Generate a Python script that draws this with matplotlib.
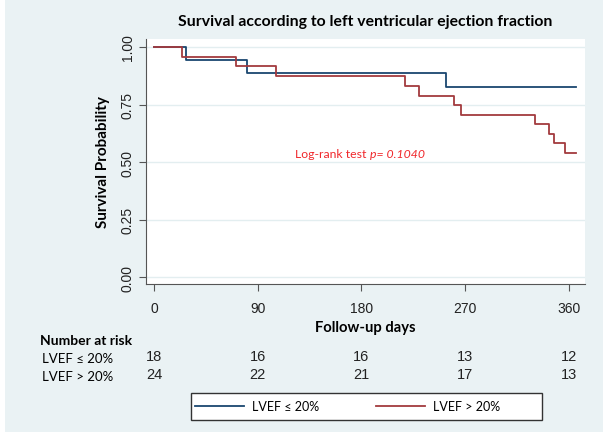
import numpy as np
import matplotlib.pyplot as plt
from matplotlib.patches import Rectangle
import matplotlib.transforms as mtransforms

# Kaplan-Meier steps
blue_t = [0, 28, 81, 253, 366]
blue_s = [1.0, 0.944, 0.889, 0.827, 0.827]
red_t = [0, 24, 71, 106, 218, 230, 260, 266, 331, 343, 347, 357, 366]
red_s = [1.0, 0.958, 0.917, 0.875, 0.829, 0.788, 0.748, 0.704, 0.664, 0.622, 0.581, 0.539, 0.539]

x_ticks = [0, 90, 180, 270, 360]
y_ticks = [0.0, 0.25, 0.5, 0.75, 1.0]
groups = ['LVEF \u2264 20%', 'LVEF > 20%']
at_risk_low = [18, 16, 16, 13, 12]
at_risk_high = [24, 22, 21, 17, 13]

navy = '#1A476F'
maroon = '#A33A3E'
bg = '#EAF2F4'
bold_font = 'Lato'
num_font = 'Liberation Sans'

fig = plt.figure(figsize=(6.07, 4.39), dpi=100, facecolor='white')
fig.patches.append(Rectangle((5/607, 6/439), 598/607, 433/439, transform=fig.transFigure,
                             facecolor=bg, edgecolor='none', zorder=-10))

ax = fig.add_axes([146/607, 1-285/439, 439/607, 245/439])
ax.set_facecolor('white')
ax.step(blue_t, blue_s, where='post', color=navy, lw=1.3, label=groups[0])
ax.step(red_t, red_s, where='post', color=maroon, lw=1.3, label=groups[1])

ax.set_xlim(-7, 374)
ax.set_ylim(-0.03, 1.035)
ax.set_xticks(x_ticks)
ax.set_yticks(y_ticks)
ax.set_yticklabels(['%.2f' % v for v in y_ticks], rotation=90, va='center',
                   family=num_font, fontsize=10)
ax.set_xticklabels([str(v) for v in x_ticks], family=num_font, fontsize=10)
ax.tick_params(direction='out', length=5, color='#555555', width=0.8, labelcolor='#222222')
ax.tick_params(axis='y', pad=3)
ax.tick_params(axis='x', pad=7)
for s in ['top', 'right']:
    ax.spines[s].set_visible(False)
for s in ['left', 'bottom']:
    ax.spines[s].set_color('#555555')
    ax.spines[s].set_linewidth(0.8)
ax.grid(axis='y', color='#E3EEF0', lw=1)
ax.set_axisbelow(True)

ax.set_ylabel('Survival Probability', family=bold_font, fontweight='bold', fontsize=11, labelpad=8)
ax.set_xlabel('Follow-up days', family=bold_font, fontweight='bold', fontsize=10.6, labelpad=4)
fig.text(365/607, 1-22/439, 'Survival according to left ventricular ejection fraction',
         family=bold_font, fontweight='bold', fontsize=11.3, ha='center', va='center')

# log-rank annotation, p-value part in italics
t1 = fig.text(295/607, 1-154/439, 'Log-rank test ', color='#F0282C', family=bold_font,
              fontsize=8.8, ha='left', va='center')
ax.annotate('p= 0.1040', xy=(1, 0.5), xycoords=t1, color='#F0282C', family=bold_font,
            fontsize=8.8, fontstyle='italic', ha='left', va='center')

# number at risk table
trans = mtransforms.blended_transform_factory(ax.transData, fig.transFigure)
fig.text(40/607, 1-341/439, 'Number at risk', family=bold_font, fontweight='bold',
         fontsize=10, ha='left', va='center')
for row, (name, vals) in enumerate(zip(groups, [at_risk_low, at_risk_high])):
    yy = 1 - (357 + 18*row)/439
    fig.text(42/607, yy - 0.004, name, family=bold_font, fontsize=9.5, ha='left', va='center')
    for xv, n in zip(x_ticks, vals):
        ax.text(xv, yy, str(n), transform=trans, family=num_font, fontsize=10.5,
                ha='center', va='center', color='#222222')

# legend box
fig.patches.append(Rectangle((191/607, 1-421/439), 351/607, 27/439, transform=fig.transFigure,
                             facecolor='white', edgecolor='#333333', lw=1, zorder=1))
leg = fig.legend(loc='center left', bbox_to_anchor=(191/607, 1-407.5/439), ncol=2,
                 frameon=False, prop={'family': bold_font, 'size': 9}, handlelength=3.9,
                 handletextpad=0.65, columnspacing=4.6, borderaxespad=0, borderpad=0.3)
leg.set_zorder(2)

fig.savefig('out.png', dpi=100, facecolor=fig.get_facecolor())
